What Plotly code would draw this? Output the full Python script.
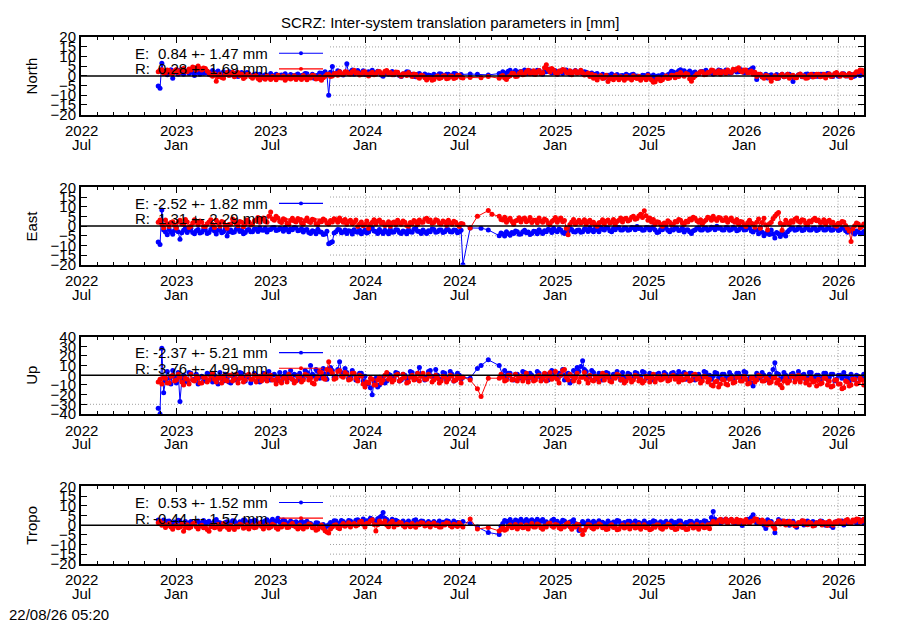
import plotly.graph_objects as go
import pandas as pd

W, H = 900, 630
FONT = "Liberation Sans"

# ---------------- data (half-weekly samples) ----------------
start_date = "2022-11-27"
n_pts = 390
dates = pd.date_range(start_date, periods=n_pts, freq="84h")
N = None

north_E = [
    -5.2, -6.4, 6.5, 2.1, 2.5, 0.6, 1.5, 3.2, -1.2, 1.9, 2.2, 0.9, 3.0, 1.8, 0.8, 2.6, 2.4, 1.2, 3.1, 1.7, 0.2, 2.3, 1.8, 0.8, 2.7, 1.4,
    1.6, 2.4, 0.9, 1.8, 2.8, 0.9, 1.7, 2.5, 0.1, 1.3, 2.1, 0.6, 1.2, 2.2, 1.9, 0.4, 0.7, 1.6, -0.3, 1.1, 1.8, 0.2, 0.9, 1.7, 1.1, 0.1,
    -0.2, 0.9, 1.0, -0.4, 0.8, 0.1, -1.1, 0.6, 0.3, -0.5, 1.2, 0.2, -0.1, 0.8, -0.9, 0.3, 0.4, -0.6, 1.1, 0.0, -0.8, 0.7, 0.2, -0.4, 0.5, 1.0,
    -1.0, 0.2, 0.4, 1.3, 1.1, -0.3, -0.2, 0.9, -1.2, 0.1, 0.3, 1.5, 1.4, 0.2, 2.2, 0.8, -10.0, 1.9, 4.8, 0.9, 1.2, 2.6, 2.3, 1.0, 0.4, 1.8,
    6.3, 1.2, 2.1, 3.0, 0.9, 2.0, 2.8, 1.1, 1.6, 2.7, 0.7, 1.9, 2.2, 0.9, 2.9, 1.6, 1.1, 2.4, 1.8, 0.5, -0.2, 1.4, 2.0, 0.8, 1.2, 2.3,
    0.6, 1.6, 1.8, 0.2, -0.3, 1.0, 1.1, 2.1, 2.0, 0.5, 0.8, -0.2, -0.4, 0.9, 1.2, 0.0, 0.1, 1.0, -1.3, 0.4, 0.2, -0.7, 0.9, 0.1, -0.2, 1.1,
    1.0, 0.1, -0.1, 0.8, 0.9, -0.3, 0.2, 1.2, 1.1, 0.3, 0.0, 0.7, N, N, N, N, 1.0, N, N, N, 0.8, N, N, N, N, N,
    0.5, N, N, N, N, N, 1.2, 0.6, 2.1, 1.5, 0.8, 2.4, 2.9, 1.3, 1.7, 2.8, 0.9, 2.0, 2.3, 1.1, 3.1, 2.2, 1.2, 2.7, 2.0, 1.0,
    1.6, 2.9, 2.8, 1.1, 0.9, 2.4, 2.2, 3.4, 3.0, 1.5, 1.7, 2.6, 0.8, 2.0, 2.6, 1.3, 2.1, 3.0, 1.9, 0.9, 0.7, 2.2, 2.8, 1.5, 1.8, 2.7,
    1.1, 2.2, 1.9, 0.8, 0.6, 1.5, -0.2, 0.9, 1.2, -0.3, 0.1, 0.9, -1.1, 0.0, 0.3, -0.8, 1.0, 0.2, -0.4, 0.7, -1.2, 0.1, 0.2, -0.6, 0.9, 0.3,
    -0.3, 0.6, 0.8, -0.5, -0.1, -1.0, -1.2, 0.3, 0.2, -0.7, 0.9, 0.0, -0.4, 0.5, -1.3, -0.2, 0.1, -0.9, 0.7, -0.1, -0.2, 0.6, 1.1, 2.4, 2.0, 1.2,
    1.8, 2.7, 3.2, 1.9, 2.6, 1.0, 1.7, 2.5, 0.8, 1.6, 2.0, 0.9, 1.1, 2.2, 2.3, 1.3, 2.9, 1.8, 1.6, 2.6, 0.9, 1.7, 2.1, 3.0, 2.8, 1.7,
    1.9, 3.1, 2.7, 1.5, 1.6, 2.6, 3.0, 2.0, 2.2, 3.3, 2.9, 1.7, 1.8, 2.9, 2.8, 3.6, 4.2, 1.2, -1.8, 0.3, 0.9, -0.6, -0.2, 0.8, -1.1, 0.2,
    0.6, -0.6, -0.4, 0.7, -1.2, 0.1, 0.8, -0.5, -0.1, 0.9, 0.9, -0.4, -2.9, -0.8, -0.3, 0.6, 0.8, -0.4, -0.2, 0.9, 1.0, 0.1, -0.3, 0.8, 0.7, -0.2,
    -0.2, 0.8, 0.9, -0.1, 0.1, 1.2, 1.0, 0.0, -0.3, 0.7, 0.8, -0.2, 0.2, 1.0, 1.1, 0.1, -0.1, 0.9, 0.7, -0.3, 0.0, 1.1, 0.9, 0.2, 1.3, 0.6,
]
north_R = [
    2.1, 3.0, 3.2, 1.2, 1.6, 3.0, 2.8, 1.5, 1.4, 2.6, 3.3, 1.8, 2.0, 3.2, 3.8, 2.4, 2.2, 3.6, 3.1, 4.6, 4.2, 3.1, 5.1, 3.8, 3.0, 4.1,
    3.8, 2.5, 1.6, 0.4, -0.2, 1.1, -2.8, -0.5, 0.9, -0.8, -1.2, 0.6, 1.8, 0.2, 0.6, 1.9, -0.4, 0.8, 1.7, 0.1, 0.8, -1.3, -0.6, 0.7, 0.9, -0.5,
    -1.2, -0.1, 0.2, -1.4, -2.1, -0.6, -0.8, -1.7, 0.1, -1.0, -1.9, -0.2, -0.9, -2.0, 0.3, -0.9, -1.1, -0.1, -2.2, -1.2, -0.3, -1.6, -1.0, 0.1, -1.8, -0.7,
    -0.7, -1.8, 0.2, -0.9, -2.0, -0.4, -1.1, 0.3, 0.1, -1.6, -1.3, -0.3, -2.2, -1.0, -0.2, 0.7, 0.8, -0.3, -0.1, 1.1, 1.2, 0.3, 2.1, 1.0, 0.9, 2.2,
    2.0, 1.1, 0.8, 2.2, 2.9, 1.4, 1.6, 0.5, 0.7, 2.0, 2.2, 0.9, -0.1, 1.2, 1.9, 0.6, 0.8, 2.1, 2.3, 1.0, 1.1, 2.4, 2.8, 1.2, 1.7, 0.6,
    0.8, 2.0, 1.9, 0.5, -0.2, 1.1, 1.0, 0.2, 1.8, 0.6, -0.3, 1.0, 0.7, -0.6, -1.2, 0.3, 0.1, -1.0, -2.1, -0.8, -0.9, -2.2, -1.8, -0.6, -0.1, -1.4,
    -1.0, 0.0, 0.1, -1.5, -1.2, -0.1, -0.2, -1.3, -0.9, 0.3, 0.2, -0.8, -1.1, N, N, N, -0.8, N, N, N, N, N, -1.0, N, N, N,
    -0.3, N, N, N, N, N, -1.2, -0.2, 0.2, -1.1, -1.8, -0.4, 0.1, 1.4, 1.2, -0.3, -0.2, 1.3, 2.1, 0.6, 0.8, 2.2, 2.9, 1.1, 1.6, 2.6,
    0.7, 2.0, 2.8, 1.2, 1.6, 4.2, 5.8, 3.3, 2.0, 3.8, 3.1, 1.6, 0.9, 2.5, 2.2, 3.3, 3.0, 1.8, 1.5, 2.6, 0.6, 1.9, 2.7, 1.4, 1.8, 2.9,
    1.6, 0.4, 0.7, 1.5, -0.3, 0.9, -1.2, 0.2, -2.1, -0.6, 0.2, -1.3, -1.0, 0.3, -2.9, -1.5, -0.8, -2.0, 0.1, -1.0, -2.0, -0.4, -1.1, -2.3, -0.2, -1.2,
    -1.0, -2.1, 0.1, -0.9, -1.3, -0.2, -2.2, -1.0, -0.9, -2.0, 0.2, -1.2, -2.1, -3.3, -3.0, -1.6, -1.2, -2.5, -2.0, -0.8, -0.1, -1.4, -1.1, 0.3, 0.2, -0.9,
    0.9, -0.3, 1.8, 0.4, -0.2, 1.2, 0.8, -1.5, -2.8, -0.9, -0.1, 1.0, 1.1, 2.2, 2.0, 0.6, 0.7, 1.8, 1.9, 3.0, 2.8, 1.3, 1.6, 2.7, 0.9, 2.1,
    2.2, 1.3, 3.1, 2.0, 1.8, 3.4, 2.9, 3.6, 4.2, 2.6, 2.0, 3.1, 3.0, 1.6, 1.7, 2.5, 0.8, 1.9, -0.3, 0.8, 0.9, -0.5, -1.2, 0.2, -0.1, -1.0,
    -2.8, -1.0, 0.1, -1.3, -1.1, 0.2, 0.9, -0.4, -0.2, 0.8, -1.2, -0.1, 0.3, -1.0, -0.9, 0.5, 1.0, -0.3, -0.1, -1.2, -1.1, 0.3, 0.8, -0.6, -0.3, 0.9,
    0.9, -0.4, -0.2, 0.8, -1.1, 0.2, 1.0, -0.3, 0.1, 1.2, 1.8, 0.5, -0.2, 1.1, 0.9, -0.1, 0.2, 1.3, -0.9, 0.4, 1.1, 2.2, 2.0, 3.1, 2.9, 1.8,
]
east_E = [
    -8.2, -9.6, 8.3, -2.0, -3.1, -4.5, -1.6, -3.0, -4.2, -2.3, -0.8, -2.9, -6.8, -3.5, -2.2, -1.0, -3.4, -2.1, -1.1, -3.3, -4.0, -2.4, -1.8, -3.6, -3.2, -1.9,
    -2.1, -3.9, -3.3, -1.8, -1.0, -2.6, -4.1, -2.2, -1.9, -3.5, -3.0, -1.4, -5.2, -3.0, -2.0, -3.3, -3.1, -1.7, -1.2, -2.8, -2.3, -4.0, -3.4, -2.0, -1.8, -3.0,
    -2.9, -1.5, -1.7, -2.8, -0.9, -2.0, -2.2, -1.1, -3.1, -1.9, -1.8, -0.9, -0.8, -2.3, -2.1, -1.2, -1.6, -2.7, -0.7, -1.8, -2.9, -1.6, -1.9, -0.8, -1.0, -2.4,
    -2.2, -1.4, -3.1, -2.0, -1.8, -3.3, -3.9, -2.5, -2.8, -4.0, -1.7, -2.9, -3.2, -4.4, -4.1, -2.7, -9.2, -8.6, -8.1, -3.6, -3.0, -1.8, -1.9, -3.5, -3.1, -2.0,
    -3.8, -2.4, -2.7, -4.1, -1.9, -3.0, -3.2, -2.0, -4.0, -3.1, -2.1, -3.6, -3.1, -1.5, -0.9, -2.6, -2.8, -3.8, -1.8, -3.0, -3.9, -2.2, -2.9, -4.0, -1.8, -3.2,
    -3.1, -1.9, -2.0, -3.4, -3.8, -2.6, -2.9, -4.0, -1.9, -2.9, -3.2, -1.7, -1.1, -2.7, -2.8, -3.9, -2.0, -3.1, -3.9, -2.4, -2.9, -1.6, -1.8, -3.2, -3.0, -2.1,
    -2.1, -3.4, -3.0, -1.8, -1.9, -3.0, -3.1, -2.0, -2.2, -3.5, -3.0, -2.2, -20.0, N, N, N, -1.0, N, N, N, N, N, -1.1, N, N, N,
    -2.0, N, N, N, N, N, -5.0, -3.6, -4.1, -5.2, -2.9, -4.0, -4.8, -3.3, -3.8, -2.6, -2.9, -4.3, -4.1, -3.0, -2.2, -3.5, -3.1, -4.4, -3.9, -2.7,
    -2.8, -4.0, -1.9, -3.1, -3.8, -2.5, -2.9, -1.7, -2.1, -3.3, -1.2, -2.4, -3.0, -1.6, -2.1, -3.4, -3.9, -2.6, -2.8, -1.5, -1.8, -3.0, -3.1, -2.2, -2.0, -3.2,
    -2.9, -1.6, -1.8, -2.8, -0.9, -2.2, -3.0, -1.4, -1.9, -2.9, -0.8, -1.7, -2.1, -0.9, -1.0, -2.4, -2.9, -1.3, -1.9, -0.7, -0.8, -2.1, -2.0, -1.0, -1.1, -2.2,
    -1.9, -0.8, -0.9, -1.9, -0.2, -1.3, -1.1, -2.2, -2.0, -0.7, -0.9, -2.0, -1.2, -0.4, -2.1, -3.3, -3.1, -1.8, -1.9, -0.9, -1.0, -2.2, -3.0, -1.8, -2.1, -1.2,
    -1.1, -2.3, -2.0, -1.0, -3.1, -2.0, -1.9, -3.0, -3.8, -2.4, -2.0, -1.1, -0.9, -2.0, -2.1, -1.1, -1.0, -2.2, -1.8, -0.6, -0.9, -1.9, -0.1, -1.2, -1.0, -2.1,
    -2.0, -0.8, -0.9, -2.2, -1.8, -0.6, -1.1, -2.4, -2.1, -1.0, -0.8, -2.0, -1.9, -0.7, -1.0, -2.6, -3.1, -1.9, -2.0, -4.0, -0.9, -3.2, -5.0, -3.8, -3.1, -4.4,
    -2.0, -4.1, -6.2, -3.3, -4.0, -5.4, -2.9, -4.2, -5.1, -3.0, -2.1, -1.2, -1.0, -2.2, -1.9, -0.8, -1.1, -2.3, -2.0, -1.0, -0.9, -2.0, -2.1, -1.1, -1.0, -2.3,
    -1.9, -0.8, -0.9, -2.0, -2.1, -1.1, -1.0, -2.2, -2.0, -0.9, -1.2, -2.3, -1.9, -1.0, -1.0, -2.4, -3.2, -1.8, -2.0, -3.3, -4.1, -2.6, -2.9, -4.0, -3.8, -2.8,
]
east_R = [
    2.0, 3.1, 0.8, -0.9, 3.1, 1.2, -0.2, 1.8, 2.2, 0.3, -1.0, 2.1, 3.0, 1.1, 0.9, 3.4, 2.1, -0.8, -0.1, 1.6, 3.2, 2.0, 0.7, 2.6, 1.9, -0.3,
    -0.2, 1.2, 2.1, 3.3, 0.8, -0.8, 3.0, 1.7, -0.1, 2.4, 1.9, 0.2, -1.1, 0.8, 1.0, 3.6, 2.9, 1.3, 0.1, 2.4, 2.0, -0.4, 0.9, 3.1, 2.1, 0.5,
    1.0, 2.6, 3.1, 4.4, 1.9, 3.5, 4.2, 2.3, 2.0, 5.1, 7.2, 3.6, 3.0, 5.0, 4.1, 2.4, 1.8, 3.7, 3.2, 1.5, 0.9, 2.8, 4.0, 2.6, 2.1, 3.9,
    3.0, 1.6, 0.9, 2.7, 4.1, 2.4, 1.8, 3.5, 3.1, 1.2, 0.8, 2.5, 2.2, 3.6, 3.0, 1.6, 1.0, 2.8, 2.1, 3.7, 3.2, 1.9, 4.1, 2.8, 1.9, 3.4,
    0.9, 2.4, 3.0, 1.2, 1.8, 3.1, -0.2, 1.1, 2.1, 0.2, 0.8, 2.6, -1.2, 0.9, 2.0, 3.3, 1.1, 2.5, 3.1, 1.4, 1.9, 0.3, 0.8, 2.2, -0.1, 1.6,
    2.1, 0.6, 3.0, 1.7, 0.9, 2.6, 2.0, 0.3, -0.1, 1.8, 1.1, 2.9, 2.2, 0.8, 3.1, 2.0, 1.9, 3.5, 4.0, 2.4, 3.1, 1.5, 1.8, 3.3, 2.9, 1.4,
    1.0, 2.6, 2.1, 0.4, 3.0, 1.6, 0.9, 2.5, 2.0, 0.7, -0.2, 1.3, 1.1, N, N, N, -1.0, N, N, N, 5.0, N, N, N, N, N,
    8.0, N, 6.1, N, N, N, 5.0, 3.4, 3.1, 4.5, 1.9, 3.2, 4.0, 2.3, 0.9, 2.6, 3.0, 4.3, 2.1, 3.5, 4.1, 2.2, 2.9, 4.4, 1.8, 3.0,
    3.0, 1.7, 4.1, 2.6, 1.9, 3.6, 3.0, 1.5, 0.8, 2.4, 3.1, 4.4, 2.0, 3.3, 4.2, 2.2, 2.9, -1.2, -4.5, 0.8, 2.1, 3.4, 0.9, 2.0, 3.0, 1.6,
    2.1, 3.3, 0.9, 2.2, 3.0, 1.5, 1.9, 0.6, -0.1, 1.7, 2.0, 3.2, 1.1, 2.5, 3.1, 1.6, 1.9, 3.4, 0.8, 2.3, 3.0, 4.2, 2.1, 3.6, 4.0, 2.6,
    3.1, 4.5, 5.0, 3.5, 3.9, 5.2, 6.1, 4.4, 7.9, 5.3, 3.0, 4.1, 2.1, 3.4, 0.9, 2.2, 2.0, 0.8, -0.1, 1.6, 1.1, 2.7, 2.0, 0.6, 0.9, 2.4,
    2.1, 3.4, 3.0, 1.6, 0.8, 2.5, 2.1, 3.6, 3.1, 4.5, 4.0, 2.7, 1.9, 3.2, 0.9, 2.4, 3.1, 4.6, 4.2, 3.0, 5.1, 3.6, 2.9, 4.4, 4.1, 2.8,
    3.0, 4.3, 1.9, 3.2, 4.1, 2.6, 2.0, 3.4, 0.9, 2.4, 2.1, 0.6, -0.2, 1.7, 3.0, 1.4, 1.1, -0.6, 2.0, 3.6, -1.2, 1.8, 4.0, 0.5, -2.1, 1.2,
    2.0, 3.8, 5.1, 6.2, 7.0, 1.5, -2.2, 0.8, 3.0, 1.6, 1.1, 2.7, 2.0, 3.5, 4.1, 2.5, 1.9, 3.3, 3.0, 1.4, 0.9, 2.6, 2.1, 3.3, 4.0, 2.7,
    3.1, 1.8, 2.0, 3.2, 0.9, 2.3, 3.0, 1.6, 1.9, 0.4, -0.1, 1.5, 1.0, 2.4, 2.1, 0.3, -1.1, -2.6, -8.0, -1.4, 0.1, 1.6, 1.0, -0.9, -0.2, 1.1,
]
up_E = [
    -34, -40, 28, -18, -6, 4, -3, -9, 5, -2, -8, 3, -27, -5, 0, -7, -6, 3, 2, -5, -4, 1, -9, -2, -1, -6,
    -5, 2, 1, -4, -7, 0, -2, -9, 3, -3, -6, 1, -3, -7, -8, -1, 0, -5, -4, 3, 2, -3, -6, 0, -2, -8,
    -4, 2, 0, -6, -7, -1, 2, -4, -3, 4, -5, 0, 1, -6, -2, 3, -6, -1, 3, -3, -1, 5, -4, 1, 0, -5,
    2, -4, -3, 5, 3, -2, 10, 1, -1, 6, 4, -3, -2, 7, 1, -4, 3, 8, 5, -2, -1, 6, 14, 3, 0, 7,
    3, -3, -2, 5, 1, -5, -4, 2, 2, -6, -1, -9, -8, -13, -20, -7, -3, -12, -10, -4, -2, -8, -6, 1, 0, -5,
    -3, 3, 2, -6, -5, 1, 0, -4, -2, 4, 3, -3, -4, 2, 8, 1, -1, -5, -3, 4, 5, -1, -2, 6, 0, -4,
    -4, 3, 2, -5, -3, 4, 1, -6, -5, 2, 0, -4, -2, N, N, N, -3, N, N, N, 7, N, 10, N, N, N,
    16, N, N, N, N, N, 10, N, 0, 5, -3, 2, 2, -4, -5, 1, 1, -3, -2, 4, 3, -2, -4, 2, 0, -5,
    -2, 4, 2, -3, -4, 1, 1, -5, -1, 5, 3, -2, -3, 2, 0, 6, -5, 1, 2, -8, -6, 5, -1, 8, 4, 9,
    15, 6, 4, -2, -1, 5, 3, -4, -3, 2, 1, -5, -2, 3, 2, -3, -4, 1, 0, 4, -1, -5, 3, -2, -2, 2,
    1, -4, -3, 3, 2, -2, -1, 4, 3, -3, -2, 2, 0, -5, -4, 1, 2, -3, -1, 3, 1, -4, -3, 2, 3, -1,
    0, 4, -2, 1, 3, -4, -1, 2, 2, -3, -5, 0, 1, -3, -2, 4, 3, -1, 0, -4, -1, 3, 2, -2, -3, 1,
    1, -3, -2, 3, 0, -4, -3, 2, 2, -2, -1, 4, 3, -5, -3, -8, -11, -2, 2, -3, -2, 3, 0, -5, -4, 1,
    -2, 6, 13, 2, 1, -4, -3, 3, 0, -2, -5, 1, 2, -3, -1, 4, -3, 0, 1, -4, -2, 3, 3, -2, -4, 0,
    0, -5, -3, 2, 2, -4, -2, 1, 1, -6, -4, 0, 0, -3, 3, -1, -2, -6, 1, -3, -5, 0, -1, -4, -3, 1,
]
up_R = [
    -7, -4, -9, -2, -3, -8, -8, -1, 0, -6, -5, 1, -2, -7, -10, -3, -4, -9, 1, -5, -6, -1, -3, -8, -8, -2,
    -2, -7, -5, -1, 2, -4, -7, -2, -3, -8, -1, -5, -6, 0, 0, -6, -4, 1, -8, -3, -2, -7, -5, 0, 1, -4,
    -4, 0, -7, -2, -1, -6, -3, 1, -6, -1, 0, -5, -5, -9, -2, -6, -8, -3, -3, -7, 1, -3, -4, -8, -6, -1,
    -2, -7, -5, 1, 0, -5, -3, -8, -9, -4, -1, 4, 3, -3, -4, 6, 14, 5, 2, -4, -3, 4, 5, -1, -2, 3,
    1, -5, -4, 2, 2, -3, -6, 0, -1, -9, -12, -7, -8, -3, -4, -10, -10, -5, -2, -8, -5, 0, 3, -4, -3, -7,
    -5, 0, 1, -6, -4, 1, -2, -8, -7, -2, 0, -5, -3, 2, -6, -1, 2, -4, -4, 1, -1, -7, -5, 0, -3, -8,
    -6, -1, -2, -7, -4, 0, -1, -6, -5, -1, -3, -8, -2, N, N, N, -5, N, N, N, -14, N, -22, N, N, N,
    -3, N, N, N, N, N, -3, 1, -2, -6, -5, 0, 0, -5, -4, 1, -6, -2, -1, -6, -3, 2, -7, -2, -2, -6,
    -5, -1, 0, -6, -3, 2, -6, -1, 3, -4, -2, 4, -4, -8, 0, 5, 6, -2, -5, 1, -1, -6, -3, 2, -7, -2,
    -2, 3, -4, -8, 0, -5, -6, -1, -3, -7, -1, 2, -5, 0, -2, -6, -7, -2, -3, 1, 0, -5, -4, -8, -6, -1,
    -3, -7, -5, 0, -1, -6, -4, -8, -6, -1, -2, -7, -3, 1, -7, -3, -1, -5, -4, 0, -2, -6, -5, -1, 0, -4,
    -3, -7, -1, -5, -4, 1, -2, -6, -5, 0, 1, -4, -3, -8, -6, -1, -2, -7, -4, -10, -11, -7, -6, -12, -9, -4,
    -5, -9, -10, -4, -3, -8, -7, -2, -2, -6, -6, -1, -4, -9, -8, -3, -3, -7, -5, 0, -1, -6, -6, -2, -4, -8,
    -7, -3, -2, -8, -5, -10, -13, -6, -3, -8, -6, -1, -1, -7, -4, 0, -7, -3, -2, -8, -5, -10, -3, -7, -6, -11,
    -4, -9, -8, -3, -3, -10, -6, -12, -11, -5, -5, -9, -9, -14, -13, -6, -7, -11, -10, -4, -4, -9, -8, -3, -5, -10,
]
tropo_E = [
    2.6, 1.2, 1.8, 2.7, 0.9, 2.0, 2.1, 0.7, 0.2, 1.6, 1.2, 2.5, 2.3, 1.0, 0.8, 1.9, -0.1, 1.1, 1.9, 0.6, 0.9, 2.0, 2.2, 1.0, 1.1, 2.4,
    0.1, 1.5, 2.0, 0.7, 0.8, 2.2, 2.9, 1.3, 1.2, 0.2, -0.2, 1.4, 1.8, 0.6, 0.9, 2.3, 2.1, 1.0, 0.2, 1.7, 1.1, 2.6, 2.4, 1.2, 0.9, 2.0,
    1.2, 2.5, 2.1, 0.8, 0.1, 1.6, 1.0, 2.3, 2.8, 1.4, 1.9, 3.0, 0.8, 2.2, 3.6, 1.6, 1.1, 2.7, 2.0, 0.7, 0.9, 2.1, -0.1, 1.3, 1.8, 0.6,
    1.1, 2.0, 0.1, 1.3, 2.0, 0.6, 0.9, -0.4, -0.2, 1.2, 1.1, -0.6, -1.0, 0.3, -1.8, -0.5, 0.2, 1.4, 1.0, 2.3, 2.1, 0.9, 0.8, 2.4, 1.9, 1.0,
    1.0, 2.4, 2.1, 1.2, 0.9, 2.5, 2.8, 1.5, 1.8, 3.2, 1.0, 2.3, 2.2, 3.5, 3.1, 2.0, 1.9, 3.3, 3.8, 4.6, 6.5, 3.6, 2.9, 1.6, 1.8, 3.0,
    1.0, 2.5, 2.0, 0.9, 0.8, 2.1, -0.1, 1.2, 2.1, 0.7, 0.9, 2.4, 2.8, 1.4, 1.1, 2.2, 2.0, 0.6, 0.8, 1.9, -0.2, 1.0, 1.9, 0.5, 1.0, 2.2,
    0.1, 1.5, 1.1, 2.3, 2.0, 0.7, 0.9, 2.1, 0.0, 1.3, 1.2, 0.4, 1.9, N, N, N, 0.8, N, N, N, -1.0, N, N, N, N, N,
    -3.8, N, N, N, N, N, -4.8, -0.6, 0.9, 2.4, 2.0, 1.0, 2.9, 1.5, 1.1, 2.6, 2.1, 0.9, 3.0, 1.8, 1.8, 2.9, 0.9, 2.2, 2.8, 1.4,
    2.0, 3.1, 1.1, 2.2, 2.9, 1.5, 1.8, 0.6, 0.9, 2.4, 3.1, 1.9, 2.0, 0.8, 1.0, 2.5, 2.2, 1.1, -0.1, 1.6, 1.9, 2.8, 0.8, -0.8, -2.8, 0.4,
    1.9, 0.6, 0.8, 2.1, -0.1, 1.2, 2.0, 0.7, 1.1, 2.3, 0.1, 1.5, 0.9, -0.2, 2.1, 1.0, 0.0, 1.6, 1.0, 2.4, 2.2, 0.8, 0.1, 1.4, 0.9, 2.0,
    2.0, 0.7, 1.1, 2.2, 0.0, 1.3, 0.9, -0.2, 2.1, 1.0, -0.1, 1.4, 1.0, 2.3, 1.9, 0.6, 0.8, 1.8, 0.1, 1.2, 2.0, 0.5, 1.0, 2.1, 0.0, 1.3,
    1.0, 2.2, 2.1, 0.6, -0.1, 1.3, 1.1, 2.0, 1.9, 0.5, 0.9, 2.2, 0.1, 1.4, 1.1, 2.3, 2.0, 0.8, 0.9, 4.0, 7.0, 3.1, 2.1, 1.2, 0.9, 2.6,
    2.0, 3.0, 1.1, 2.4, 2.9, 1.5, 0.9, 2.2, 2.1, 0.7, -0.2, 1.6, 1.9, 3.1, 2.8, 4.0, 5.4, 2.3, 1.0, 2.6, 2.0, 0.8, -0.1, -1.8, 2.8, 1.2,
    1.9, -0.5, -3.9, 1.0, 2.9, 1.8, 2.1, 0.7, 0.9, 2.0, 0.0, 1.3, 2.0, 0.6, -1.1, 0.8, 1.0, 2.2, 0.1, 1.4, 2.1, 0.6, 0.9, 1.9, -0.1, 1.2,
    1.0, 2.1, 2.0, 0.6, -0.1, 1.3, 1.1, -0.3, -1.2, 0.9, 1.9, 0.7, 1.0, 2.2, 0.1, 1.2, 2.0, 0.8, 0.9, 2.3, 2.1, 1.1, 1.0, 2.6, 1.9, 0.8,
]
tropo_R = [
    1.2, 2.0, -0.1, 0.8, -1.2, -0.2, 0.9, -1.0, -2.1, -0.6, 0.1, -1.4, -1.0, 0.4, -3.1, -1.2, 0.2, -1.5, -0.9, 0.6, 1.1, -0.8, -2.0, -0.6, -0.1, -1.3,
    -1.1, -2.2, -3.2, -0.8, 0.1, -1.3, -1.0, 0.3, -2.1, -0.9, 0.9, -0.6, -1.2, -2.3, -0.1, -1.2, -2.2, -0.4, -0.9, 0.4, 0.1, -1.6, -1.1, 0.2, -2.0, -0.7,
    0.1, -1.4, -1.1, 0.3, 0.9, -0.7, -2.0, -0.6, 0.2, -1.5, -1.0, 0.4, -0.1, -1.3, -2.1, -0.8, -0.9, 0.5, 0.2, -1.2, -1.1, 0.1, 0.8, -0.5, -0.9, -2.0,
    0.1, -1.2, -2.0, -0.5, -0.9, 0.6, 0.2, -1.4, -1.1, -2.6, -2.1, -0.8, 0.1, -1.6, -2.9, -3.5, -4.1, -2.0, -1.0, -0.1, 0.2, -1.3, -1.9, -0.2, 0.9, -0.6,
    0.1, 1.2, -1.0, 0.3, 0.9, -0.4, 0.1, 1.6, 2.0, 0.4, -0.9, 0.8, 1.1, 2.2, 2.8, 0.3, -3.0, 0.2, 2.1, 1.0, 0.9, 2.2, 0.1, -0.8, 1.0, 2.0,
    -0.9, 0.5, 0.2, 1.3, 1.1, -0.2, -1.0, 0.4, 0.1, -0.8, 0.9, -0.3, -1.1, 0.6, 0.2, 1.2, 1.0, -0.4, -0.1, 0.8, -0.9, 0.3, 1.1, -0.2, 0.1, -1.0,
    -1.0, 0.4, 0.1, 1.2, 1.0, -0.3, -0.9, 0.5, 0.1, -0.7, 1.1, 0.0, -1.0, N, N, N, 3.2, N, N, N, -2.0, N, N, N, N, N,
    -1.2, N, N, N, N, N, -3.0, -2.2, -0.9, -2.6, -2.1, -0.6, 0.1, -1.4, -1.0, 0.3, -2.0, -0.8, 0.2, -1.3, -1.1, 0.1, -2.0, -0.5, 0.9, -0.9,
    -1.0, 0.6, 0.1, -1.3, -2.1, -0.4, -0.9, 0.7, 1.0, -0.5, -1.1, 0.3, 0.1, -1.4, -2.0, -0.6, -0.9, 0.5, 1.1, -0.8, -2.1, -0.6, -1.0, 0.4, 0.1, -2.4,
    -4.8, -2.6, -1.1, 0.3, 0.1, -1.3, -2.0, -0.5, -0.9, 0.6, 0.1, -1.4, -1.1, -2.3, -2.0, -0.4, 0.2, -1.2, -0.9, -2.4, -2.1, -0.7, 0.1, -1.5, -1.0, 0.2,
    -2.0, -0.6, 0.1, -1.5, -1.1, 0.3, -2.1, -0.8, 0.2, -1.3, -0.9, -2.4, -2.0, -0.5, -1.1, 0.2, 0.1, -1.6, -2.1, -0.7, -0.9, 0.4, 0.1, -1.2, -1.2, -2.2,
    -2.0, -0.6, 0.1, -1.2, -0.9, -2.3, -2.1, -0.4, 0.2, -1.5, -1.0, 0.3, -2.1, -0.7, 0.1, -1.3, -1.1, 0.2, -1.9, 0.6, 2.0, 1.1, 0.9, 2.4, 3.1, 1.6,
    2.1, 3.2, 0.9, 2.3, 3.0, 1.5, 1.9, 3.1, 1.1, 2.5, 2.2, 0.8, 2.9, 1.6, 0.8, 2.0, 2.1, 3.3, 3.0, 1.7, 1.1, 2.6, 1.9, 0.6, 0.1, 1.5,
    1.0, -0.6, -1.9, 0.8, 2.1, 0.6, 0.9, 2.2, 0.1, 1.3, 2.0, 0.5, 1.1, -0.3, -0.1, 1.4, 0.9, 2.3, 2.1, 0.6, 0.2, 1.5, 1.0, -0.4, -0.1, 1.2,
    0.9, 2.0, 0.1, 1.4, 1.1, -0.2, 2.0, 0.7, -0.1, 1.6, 0.9, 2.3, 2.1, 0.8, 1.0, 2.4, 2.9, 1.3, 1.1, 2.6, 2.0, 3.2, 3.0, 1.6, 2.1, 3.1,
]

panel_names = ["North", "East", "Up", "Tropo"]
series_E = [north_E, east_E, up_E, tropo_E]
series_R = [north_R, east_R, up_R, tropo_R]
stats_E = ["0.84 +- 1.47 mm", "-2.52 +- 1.82 mm", "-2.37 +- 5.21 mm", "0.53 +- 1.52 mm"]
stats_R = ["0.28 +- 1.69 mm", "1.31 +- 2.29 mm", "-3.76 +- 4.99 mm", "-0.44 +- 1.57 mm"]
y_limits = [20, 20, 40, 20]
y_steps = [5, 5, 10, 5]

tick_dates = ["2022-07-01", "2023-01-01", "2023-07-01", "2024-01-01", "2024-07-01",
              "2025-01-01", "2025-07-01", "2026-01-01", "2026-07-01"]
tick_years = ["2022", "2023", "2023", "2024", "2024", "2025", "2025", "2026", "2026"]
tick_months = ["Jul", "Jan", "Jul", "Jan", "Jul", "Jan", "Jul", "Jan", "Jul"]
x_range = ["2022-07-01", "2026-08-20"]

title_text = "SCRZ: Inter-system translation parameters in [mm]"
stamp_text = "22/08/26 05:20"

for name, arr in zip(["nE", "eE", "uE", "tE", "nR", "eR", "uR", "tR"], series_E + series_R):
    assert len(arr) == n_pts, (name, len(arr))

# ---------------- layout geometry (pixels) ----------------
PLOT_L, PLOT_R = 81, 864
panel_tops = [29, 183.3, 336.7, 490.7]
PANEL_H = 79.5
COVER_R = 330          # gnuplot opaque key area hides the grid left of this
UP_COVER_BOTTOM = -25  # in the Up panel the hidden area stops above -25


def px_x(x):
    return x / W


def px_y(y):
    return 1 - y / H


BLUE = "#0000ff"
RED = "#ff0000"
GRID = "#a0a0a0"
FS = 15

t0 = pd.Timestamp(x_range[0])
t1 = pd.Timestamp(x_range[1])
cover_frac = (COVER_R - PLOT_L) / (PLOT_R - PLOT_L)

fig = go.Figure()
layout = dict(
    width=W, height=H, margin=dict(l=0, r=0, t=0, b=0),
    paper_bgcolor="white", plot_bgcolor="white", showlegend=False,
    font=dict(family=FONT, size=FS, color="black"),
)
shapes, annotations = [], []

for k in range(4):
    sfx = "" if k == 0 else str(k + 1)
    top = panel_tops[k]
    bot = top + PANEL_H
    lim = y_limits[k]
    step = y_steps[k]

    for vals, col in ((series_E[k], BLUE), (series_R[k], RED)):
        fig.add_trace(go.Scatter(
            x=dates, y=vals, mode="lines+markers", connectgaps=True,
            line=dict(color=col, width=1), marker=dict(color=col, size=5),
            xaxis="x" + sfx, yaxis="y" + sfx, hoverinfo="skip",
        ))

    layout["xaxis" + sfx] = dict(
        domain=[px_x(PLOT_L), px_x(PLOT_R)], anchor="y" + sfx, type="date",
        range=x_range, tickvals=tick_dates, showticklabels=False,
        ticks="inside", ticklen=6, tickcolor="black", tickwidth=1,
        showline=True, linecolor="black", linewidth=2, mirror="allticks",
        showgrid=False, zeroline=False, fixedrange=True,
        minor=dict(ticks="inside", ticklen=3, dtick="M1", tick0="2022-07-01",
                   tickcolor="black", showgrid=False),
    )
    layout["yaxis" + sfx] = dict(
        domain=[px_y(bot), px_y(top)], anchor="x" + sfx,
        range=[-lim, lim], tick0=0, dtick=step,
        ticks="inside", ticklen=6, tickcolor="black",
        showline=True, linecolor="black", linewidth=2, mirror="allticks",
        showgrid=False, zeroline=False, tickfont=dict(size=FS), fixedrange=True,
    )

    # dotted grid (hidden under the gnuplot key area on the left)
    for v in range(-lim + step, lim, step):
        if v == 0:
            continue
        start = 0 if (k == 2 and v < UP_COVER_BOTTOM) else cover_frac
        shapes.append(dict(type="line", xref="x" + sfx + " domain", x0=start, x1=1,
                           yref="y" + sfx, y0=v, y1=v, layer="below",
                           line=dict(color=GRID, width=1, dash="1px,2px")))
    for d in tick_dates:
        frac = (pd.Timestamp(d) - t0) / (t1 - t0)
        if PLOT_L + frac * (PLOT_R - PLOT_L) <= COVER_R:
            continue
        shapes.append(dict(type="line", xref="x" + sfx, x0=d, x1=d,
                           yref="y" + sfx + " domain", y0=0, y1=1, layer="below",
                           line=dict(color=GRID, width=1, dash="1px,2px")))
    # zero line
    shapes.append(dict(type="line", xref="x" + sfx + " domain", x0=0, x1=1,
                       yref="y" + sfx, y0=0, y1=0,
                       line=dict(color="black", width=1.5), layer="above"))

    # two-line date labels
    for d, yr, mo in zip(tick_dates, tick_years, tick_months):
        annotations.append(dict(text=yr, x=d, xref="x" + sfx, y=px_y(bot + 16.5),
                                yref="paper", xanchor="center", yanchor="middle",
                                showarrow=False, font=dict(size=FS)))
        annotations.append(dict(text=mo, x=d, xref="x" + sfx, y=px_y(bot + 30.5),
                                yref="paper", xanchor="center", yanchor="middle",
                                showarrow=False, font=dict(size=FS)))

    # key rows
    for row, (lab, txt, col) in enumerate((("E:", stats_E[k], BLUE),
                                           ("R:", stats_R[k], RED))):
        yc = top + 16.5 + 16 * row
        annotations.append(dict(text=lab, x=px_x(133), y=px_y(yc), xref="paper",
                                yref="paper", xanchor="left", yanchor="middle",
                                showarrow=False, font=dict(size=FS)))
        annotations.append(dict(text=txt, x=px_x(270), y=px_y(yc), xref="paper",
                                yref="paper", xanchor="right", yanchor="middle",
                                showarrow=False, font=dict(size=FS)))
        shapes.append(dict(type="line", xref="paper", yref="paper",
                           x0=px_x(279), x1=px_x(323), y0=px_y(yc), y1=px_y(yc),
                           line=dict(color=col, width=1.2), layer="above"))
        shapes.append(dict(type="circle", xref="paper", yref="paper",
                           x0=px_x(299), x1=px_x(303), y0=px_y(yc + 2), y1=px_y(yc - 2),
                           fillcolor=col, line=dict(width=0), layer="above"))

    # y title
    annotations.append(dict(text=panel_names[k], x=px_x(31.5), y=px_y(top + PANEL_H / 2),
                            xref="paper", yref="paper", xanchor="center",
                            yanchor="middle", textangle=-90, showarrow=False,
                            font=dict(size=FS)))

annotations.append(dict(text=title_text, x=px_x(450), y=px_y(14), xref="paper",
                        yref="paper", xanchor="center", yanchor="middle",
                        showarrow=False, font=dict(size=15)))
annotations.append(dict(text=stamp_text, x=px_x(7), y=px_y(622), xref="paper",
                        yref="paper", xanchor="left", yanchor="middle",
                        showarrow=False, font=dict(size=FS)))

layout["shapes"] = shapes
layout["annotations"] = annotations
fig.update_layout(**layout)
fig.write_html("out.html", config={"displayModeBar": False},
               post_script="document.body.style.margin='0px';")
